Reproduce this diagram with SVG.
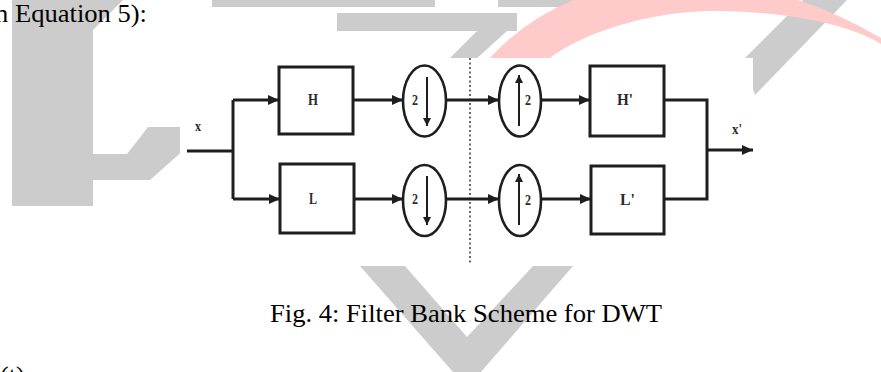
<svg xmlns="http://www.w3.org/2000/svg" width="881" height="372" viewBox="0 0 881 372">
<defs>
<style>
.wm{fill:#cccccc;stroke:none}
.pk{fill:#ffcaca;stroke:none}
.ln{fill:none;stroke:#1e1e1e;stroke-width:3}
.bx{fill:#ffffff;stroke:#1e1e1e;stroke-width:3}
.ci{fill:#ffffff;stroke:#1e1e1e;stroke-width:2.6}
.lb{font-family:"Liberation Serif","Times New Roman",serif;font-weight:bold;fill:#2a2a2a}
.tx{font-family:"Liberation Serif","Times New Roman",serif;font-size:26px;fill:#000}
</style>
<marker id="ah" markerUnits="userSpaceOnUse" markerWidth="11" markerHeight="10" refX="11" refY="5" orient="auto">
<path d="M0,0 L11,5 L0,10 z" fill="#1e1e1e"/>
</marker>
<marker id="ahs" markerUnits="userSpaceOnUse" markerWidth="8" markerHeight="8" refX="8" refY="4" orient="auto">
<path d="M0,0 L8,4 L0,8 z" fill="#1e1e1e"/>
</marker>
</defs>
<rect x="0" y="0" width="881" height="372" fill="#ffffff"/>
<g id="watermark">
<polygon class="wm" points="12,0 123,0 93,30 93,154 127,154 148,127 185,127 185,149 150,180 93,180 93,206 12,206"/>
<rect class="wm" x="212" y="0" width="223" height="7"/>
<rect class="wm" x="498" y="0" width="82" height="7"/>
<polygon class="wm" points="337,13 517,13 517,31 507,31 475,60 448,60 477,31 337,31"/>
<polygon class="wm" points="803,0 847,0 755,95 743,60"/>
<polygon class="wm" points="360,266 405,266 467,337 533,266 573,266 467,388"/>
<path class="pk" d="M488,60 Q560,-20 690,-22 Q790,-15 881,38 L881,44 C850,25 790,12 720,11 C640,10 570,40 548,60 Z"/>
</g>
<text class="tx" x="-5" y="22" textLength="152" lengthAdjust="spacingAndGlyphs">n Equation 5):</text>
<text class="tx" x="270" y="322" textLength="392" lengthAdjust="spacingAndGlyphs">Fig. 4: Filter Bank Scheme for DWT</text>
<text class="tx" x="0" y="384">(t)</text>
<rect x="180" y="58" width="573" height="208" fill="#ffffff"/>
<line x1="470" y1="58" x2="470" y2="265" stroke="#6a6a6a" stroke-width="2" stroke-dasharray="2,2.5"/>
<g id="connectors">
<path class="ln" d="M187,151 H233"/>
<path class="ln" d="M233,100 V199"/>
<path class="ln" d="M233,100 H279" marker-end="url(#ah)"/>
<path class="ln" d="M233,199 H280" marker-end="url(#ah)"/>
<path class="ln" d="M353,100 H403" marker-end="url(#ah)"/>
<path class="ln" d="M354,199 H403" marker-end="url(#ah)"/>
<path class="ln" d="M446,100 H499" marker-end="url(#ah)"/>
<path class="ln" d="M446,199 H499" marker-end="url(#ah)"/>
<path class="ln" d="M541,100 H590" marker-end="url(#ah)"/>
<path class="ln" d="M541,199 H591" marker-end="url(#ah)"/>
<path class="ln" d="M664,100 H707 V199 H664"/>
<path class="ln" d="M707,150 H753" marker-end="url(#ah)"/>
</g>
<g id="input">
<text class="lb" x="195" y="131" font-size="15" textLength="6" lengthAdjust="spacingAndGlyphs">x</text>
</g>
<g id="H">
<rect class="bx" x="279" y="67" width="74" height="67"/>
<text class="lb" x="308" y="105" font-size="17" textLength="10" lengthAdjust="spacingAndGlyphs">H</text>
</g>
<g id="L">
<rect class="bx" x="280" y="164" width="74" height="69"/>
<text class="lb" x="309" y="204" font-size="17" textLength="8" lengthAdjust="spacingAndGlyphs">L</text>
</g>
<g id="down1">
<ellipse class="ci" cx="424.5" cy="101" rx="21.5" ry="35.5"/>
<line x1="427" y1="77" x2="427" y2="126" stroke="#1e1e1e" stroke-width="2" marker-end="url(#ahs)"/>
<text class="lb" x="412" y="105" font-size="14" textLength="6" lengthAdjust="spacingAndGlyphs">2</text>
</g>
<g id="down2">
<ellipse class="ci" cx="424.5" cy="200.5" rx="21.5" ry="35.5"/>
<line x1="427" y1="176" x2="427" y2="225" stroke="#1e1e1e" stroke-width="2" marker-end="url(#ahs)"/>
<text class="lb" x="412" y="204" font-size="14" textLength="6" lengthAdjust="spacingAndGlyphs">2</text>
</g>
<g id="up1">
<ellipse class="ci" cx="520" cy="101" rx="21" ry="35.5"/>
<line x1="519" y1="126" x2="519" y2="75" stroke="#1e1e1e" stroke-width="2" marker-end="url(#ahs)"/>
<text class="lb" x="525" y="105" font-size="14" textLength="6" lengthAdjust="spacingAndGlyphs">2</text>
</g>
<g id="up2">
<ellipse class="ci" cx="520" cy="200.5" rx="21" ry="35.5"/>
<line x1="519" y1="225" x2="519" y2="174" stroke="#1e1e1e" stroke-width="2" marker-end="url(#ahs)"/>
<text class="lb" x="525" y="205" font-size="14" textLength="6" lengthAdjust="spacingAndGlyphs">2</text>
</g>
<g id="Hp">
<rect class="bx" x="590" y="66" width="74" height="70"/>
<text class="lb" x="617" y="105" font-size="17" textLength="16" lengthAdjust="spacingAndGlyphs">H'</text>
</g>
<g id="Lp">
<rect class="bx" x="591" y="166" width="73" height="68"/>
<text class="lb" x="620" y="205" font-size="17" textLength="15" lengthAdjust="spacingAndGlyphs">L'</text>
</g>
<g id="output">
<text class="lb" x="732" y="134" font-size="15" textLength="10" lengthAdjust="spacingAndGlyphs">x'</text>
</g>
</svg>
